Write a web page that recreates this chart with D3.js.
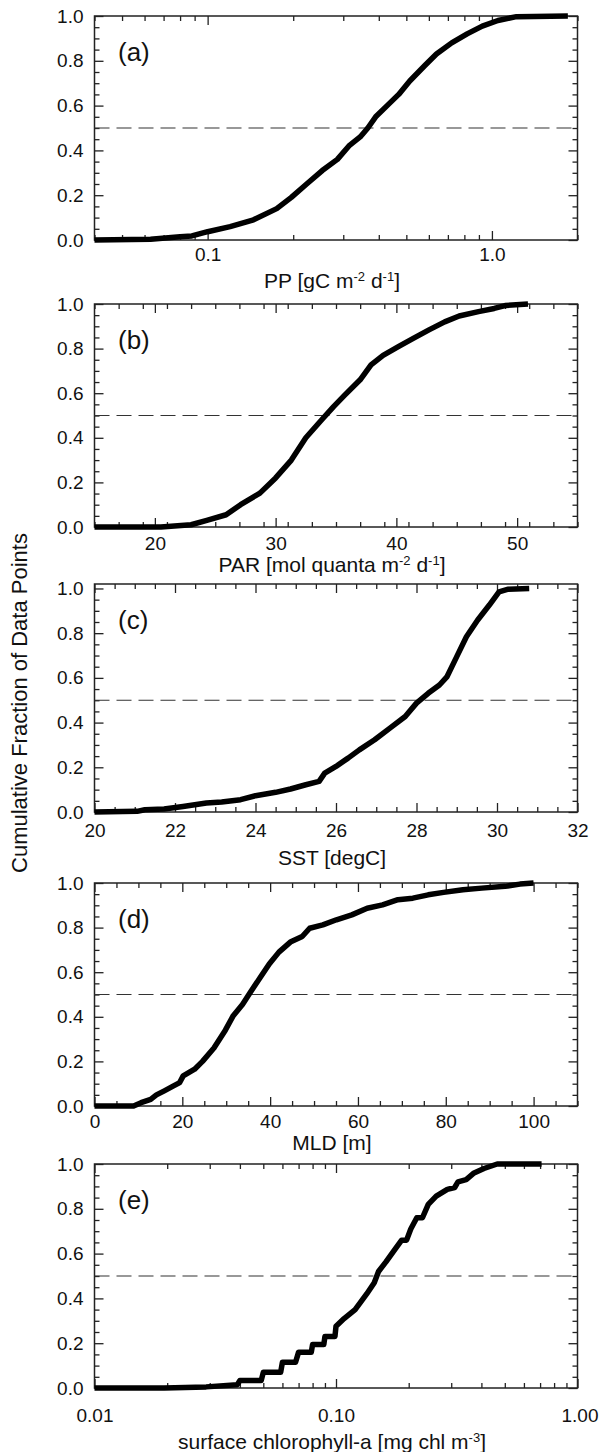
<!DOCTYPE html>
<html>
<head>
<meta charset="utf-8">
<script src="https://cdn.jsdelivr.net/npm/d3@7"></script>
<style>
  body { margin: 0; background: #fff; }
  svg { display: block; }
  text { font-family: "Liberation Sans", Arial, Helvetica, sans-serif; fill: #111; }
</style>
</head>
<body>
<svg id="chart" width="600" height="1452"></svg>
<script>
// ---------- DATA ----------
// (a) primary production
const ppX = [0.04, 0.063, 0.08, 0.088, 0.1, 0.12, 0.145, 0.175, 0.197, 0.223, 0.253, 0.286, 0.314, 0.344, 0.366, 0.39, 0.428, 0.47, 0.514, 0.582, 0.638, 0.722, 0.818, 0.925, 1.05, 1.22, 1.85];
const ppY = [0, 0.003, 0.015, 0.018, 0.037, 0.06, 0.09, 0.14, 0.19, 0.25, 0.31, 0.36, 0.42, 0.46, 0.5, 0.55, 0.6, 0.65, 0.71, 0.78, 0.83, 0.88, 0.92, 0.955, 0.98, 0.997, 1.0];
// (b) PAR
const parX = [15, 20.5, 23, 24.3, 25.9, 27.1, 28.7, 30, 31.3, 32.5, 33.8, 34.8, 35.7, 37, 37.9, 38.9, 40.2, 41.4, 42.7, 44, 45.2, 46.8, 48.1, 49, 50.9];
const parY = [0, 0, 0.01, 0.03, 0.055, 0.1, 0.152, 0.22, 0.3, 0.4, 0.48, 0.54, 0.59, 0.66, 0.727, 0.77, 0.81, 0.846, 0.884, 0.92, 0.946, 0.966, 0.98, 0.993, 1.0];
// (c) SST
const sstX = [20, 21.06, 21.25, 21.73, 22.2, 22.78, 23.16, 23.63, 24.0, 24.5, 24.87, 25.25, 25.58, 25.72, 26.0, 26.3, 26.58, 26.96, 27.34, 27.72, 28.0, 28.29, 28.57, 28.76, 29.0, 29.24, 29.52, 29.81, 30.05, 30.28, 30.8];
const sstY = [0, 0.003, 0.01, 0.013, 0.025, 0.04, 0.045, 0.055, 0.073, 0.088, 0.103, 0.122, 0.137, 0.174, 0.204, 0.241, 0.278, 0.323, 0.375, 0.427, 0.487, 0.531, 0.568, 0.606, 0.695, 0.784, 0.859, 0.926, 0.985, 0.997, 1.0];
// (d) MLD
const mldX = [0, 8.9, 10.6, 12.8, 14.1, 15.9, 18.0, 19.4, 20.2, 22.8, 24.6, 27.2, 29.8, 31.6, 33.7, 35.5, 37.7, 39.8, 42.0, 44.6, 47.3, 49.0, 52.0, 55.1, 58.6, 62.1, 65.6, 69.1, 72.5, 76.0, 79.5, 83.9, 88.2, 93.5, 96.9, 100];
const mldY = [0, 0, 0.015, 0.03, 0.05, 0.068, 0.09, 0.105, 0.135, 0.165, 0.2, 0.26, 0.34, 0.405, 0.455, 0.51, 0.575, 0.637, 0.69, 0.735, 0.76, 0.797, 0.812, 0.835, 0.857, 0.887, 0.902, 0.925, 0.932, 0.947, 0.958, 0.97, 0.977, 0.985, 0.995, 1.0];
// (e) surface chlorophyll-a
const chlX = [0.01, 0.0194, 0.029, 0.039, 0.04, 0.049, 0.05, 0.059, 0.06, 0.068, 0.07, 0.079, 0.08, 0.089, 0.09, 0.099, 0.1, 0.108, 0.12, 0.134, 0.144, 0.15, 0.161, 0.173, 0.187, 0.196, 0.204, 0.216, 0.228, 0.241, 0.26, 0.289, 0.31, 0.32, 0.346, 0.373, 0.41, 0.465, 0.56, 0.71];
const chlY = [0, 0, 0.005, 0.015, 0.033, 0.033, 0.07, 0.07, 0.115, 0.115, 0.16, 0.16, 0.194, 0.194, 0.23, 0.23, 0.276, 0.31, 0.35, 0.42, 0.47, 0.52, 0.563, 0.61, 0.66, 0.66, 0.71, 0.76, 0.76, 0.82, 0.857, 0.887, 0.895, 0.92, 0.93, 0.96, 0.98, 1.0, 1.0, 1.0];

// ---------- TICKS / LABELS ----------
const panelLetters = ["(a)", "(b)", "(c)", "(d)", "(e)"];
const yTicks = [0, 0.2, 0.4, 0.6, 0.8, 1.0];
const yMinor = [0.05, 0.1, 0.15, 0.25, 0.3, 0.35, 0.45, 0.5, 0.55, 0.65, 0.7, 0.75, 0.85, 0.9, 0.95];
const ppTicks = [0.1, 1.0];
const ppTickLabels = ["0.1", "1.0"];
const parTicks = [20, 30, 40, 50];
const sstTicks = [20, 22, 24, 26, 28, 30, 32];
const mldTicks = [0, 20, 40, 60, 80, 100];
const chlTicks = [0.01, 0.1, 1.0];
const chlTickLabels = ["0.01", "0.10", "1.00"];
const medianLevel = 0.5;
const yTitle = "Cumulative Fraction of Data Points";
// axis titles as [text, superscript?] segments
const ppTitle = [["PP [gC m", 0], ["-2", 1], [" d", 0], ["-1", 1], ["]", 0]];
const parTitle = [["PAR [mol quanta m", 0], ["-2", 1], [" d", 0], ["-1", 1], ["]", 0]];
const sstTitle = [["SST [degC]", 0]];
const mldTitle = [["MLD [m]", 0]];
const chlTitle = [["surface chlorophyll-a [mg chl m", 0], ["-3", 1], ["]", 0]];

// ---------- LAYOUT ----------
const left = 94.5, right = 577.5;
const panels = [
  { xs: ppX, ys: ppY, log: true, dom: [0.04, 2.0], ticks: ppTicks, labels: ppTickLabels, title: ppTitle, top: 16, bottom: 240, ymax: 1.0, pad: 8, tOff: 41 },
  { xs: parX, ys: parY, log: false, dom: [15, 55], ticks: parTicks, minorStep: 2, title: parTitle, top: 304, bottom: 527, ymax: 1.0, pad: 10, tOff: 38 },
  { xs: sstX, ys: sstY, log: false, dom: [20, 32], ticks: sstTicks, minorStep: 0.5, title: sstTitle, top: 584, bottom: 812, ymax: 1.02, pad: 12, tOff: 46 },
  { xs: mldX, ys: mldY, log: false, dom: [0, 110], ticks: mldTicks, minorStep: 5, title: mldTitle, top: 883, bottom: 1106, ymax: 1.0, pad: 9, tOff: 37 },
  { xs: chlX, ys: chlY, log: true, dom: [0.01, 1.0], ticks: chlTicks, labels: chlTickLabels, title: chlTitle, top: 1164, bottom: 1388, ymax: 1.0, pad: 21, tOff: 54, lastDx: 2 }
];

const svg = d3.select("#chart");
const MAJ = 9, MIN = 5;

function logMinor(dom) {
  const out = [];
  const lo = Math.floor(Math.log10(dom[0])), hi = Math.ceil(Math.log10(dom[1]));
  for (let e = lo; e <= hi; e++) {
    for (let k = 2; k <= 9; k++) {
      const v = k * Math.pow(10, e);
      if (v >= dom[0] * 0.999 && v <= dom[1] * 1.001) out.push(v);
    }
  }
  return out;
}
function linMinor(dom, step, majors) {
  const out = [];
  const n = Math.round((dom[1] - dom[0]) / step);
  for (let i = 0; i <= n; i++) {
    const v = +(dom[0] + i * step).toFixed(6);
    if (!majors.some(m => Math.abs(m - v) < 1e-9)) out.push(v);
  }
  return out;
}

panels.forEach((p, i) => {
  const x = (p.log ? d3.scaleLog() : d3.scaleLinear()).domain(p.dom).range([left, right]);
  const y = d3.scaleLinear().domain([0, p.ymax]).range([p.bottom, p.top]);
  const g = svg.append("g");
  const h = p.bottom - p.top;
  const minorX = p.log ? logMinor(p.dom) : linMinor(p.dom, p.minorStep, p.ticks);

  const fmtX = p.labels ? (d => p.labels[p.ticks.indexOf(d)]) : d3.format("d");

  // major x bottom with labels
  const axB = g.append("g").attr("transform", `translate(0,${p.bottom})`)
    .call(d3.axisBottom(x).tickValues(p.ticks).tickFormat(fmtX).tickSizeInner(-MAJ).tickSizeOuter(0).tickPadding(p.pad));
  if (p.lastDx) axB.selectAll(".tick:last-of-type text").attr("dx", p.lastDx);
  g.append("g").attr("transform", `translate(0,${p.bottom})`)
    .call(d3.axisBottom(x).tickValues(minorX).tickFormat("").tickSizeInner(-MIN).tickSizeOuter(0));
  g.append("g").attr("transform", `translate(0,${p.top})`)
    .call(d3.axisTop(x).tickValues(p.ticks).tickFormat("").tickSizeInner(-MAJ).tickSizeOuter(0));
  g.append("g").attr("transform", `translate(0,${p.top})`)
    .call(d3.axisTop(x).tickValues(minorX).tickFormat("").tickSizeInner(-MIN).tickSizeOuter(0));
  // y axes
  g.append("g").attr("transform", `translate(${left},0)`)
    .call(d3.axisLeft(y).tickValues(yTicks).tickFormat(d3.format(".1f")).tickSizeInner(-MAJ).tickSizeOuter(0).tickPadding(11));
  g.append("g").attr("transform", `translate(${left},0)`)
    .call(d3.axisLeft(y).tickValues(yMinor).tickFormat("").tickSizeInner(-MIN).tickSizeOuter(0));
  g.append("g").attr("transform", `translate(${right},0)`)
    .call(d3.axisRight(y).tickValues(yTicks).tickFormat("").tickSizeInner(-MAJ).tickSizeOuter(0));
  g.append("g").attr("transform", `translate(${right},0)`)
    .call(d3.axisRight(y).tickValues(yMinor).tickFormat("").tickSizeInner(-MIN).tickSizeOuter(0));

  g.selectAll(".domain").remove();
  g.selectAll(".tick line").attr("stroke", "#222").attr("stroke-width", 1.3);
  g.selectAll(".tick text").attr("font-size", 19).attr("fill", "#111")
    .attr("font-family", '"Liberation Sans", Arial, Helvetica, sans-serif');

  // frame
  g.append("rect").attr("x", left).attr("y", p.top).attr("width", right - left).attr("height", h)
    .attr("fill", "none").attr("stroke", "#222").attr("stroke-width", 1.5);

  // median dashed line
  g.append("line").attr("x1", left).attr("x2", right).attr("y1", y(medianLevel)).attr("y2", y(medianLevel))
    .attr("stroke", "#333").attr("stroke-width", 1.2).attr("stroke-dasharray", "15,7");

  // curve
  const pts = p.xs.map((v, k) => [v, p.ys[k]]);
  g.append("path").datum(pts)
    .attr("d", d3.line().x(d => x(d[0])).y(d => y(d[1])))
    .attr("fill", "none").attr("stroke", "#000").attr("stroke-width", 5.5)
    .attr("stroke-linejoin", "round").attr("stroke-linecap", "butt");

  // panel letter
  g.append("text").attr("x", 118).attr("y", p.top + 45).attr("font-size", 26).text(panelLetters[i]);

  // x title
  const t = g.append("text").attr("x", 332).attr("y", p.bottom + p.tOff).attr("dy", "0.35em")
    .attr("text-anchor", "middle").attr("font-size", 21);
  p.title.forEach(([s, sup]) => {
    const ts = t.append("tspan").text(s);
    if (sup) ts.attr("font-size", 13).attr("baseline-shift", "55%");
  });
});

// shared y title
svg.append("text")
  .attr("transform", "translate(19,703) rotate(-90)")
  .attr("text-anchor", "middle").attr("dy", "0.35em")
  .attr("font-size", 22).text(yTitle);
</script>
</body>
</html>
